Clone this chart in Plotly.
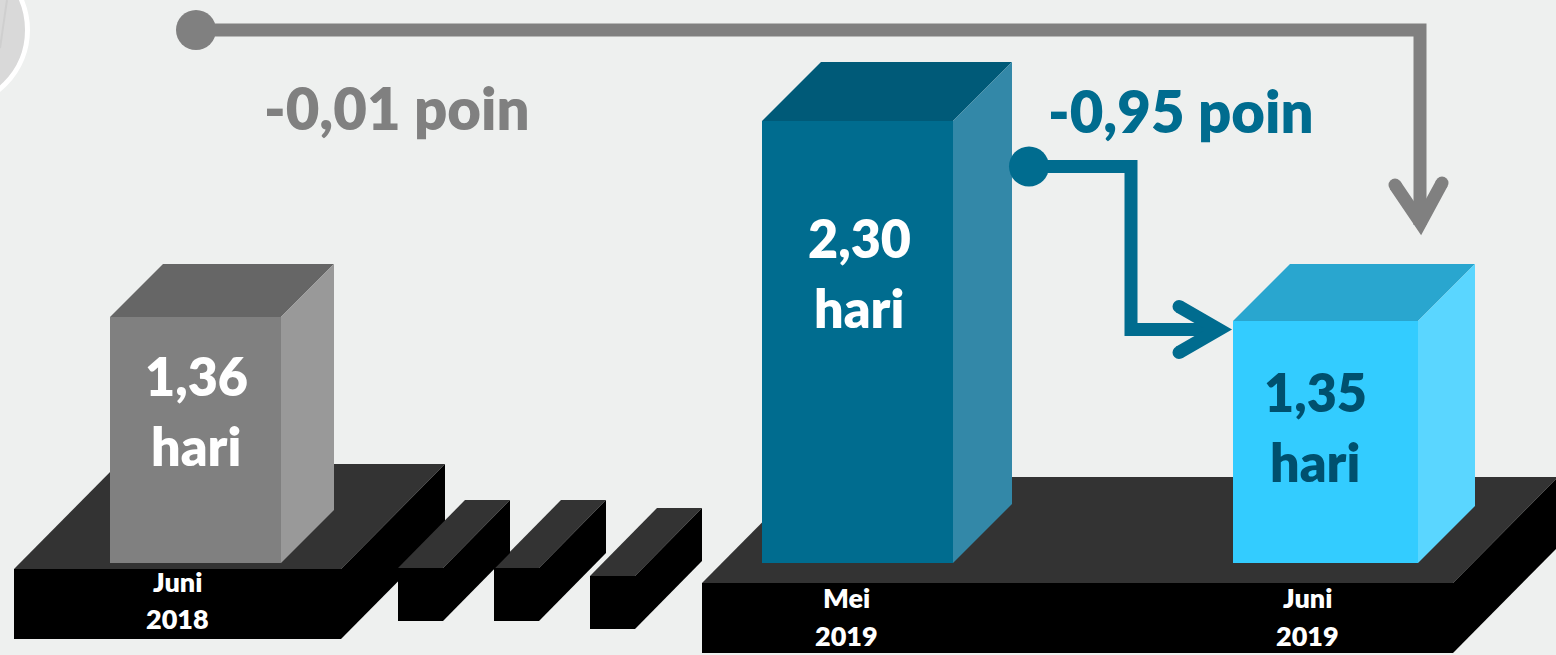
import plotly.graph_objects as go

# ---- data ----
periods = ["Juni 2018", "Mei 2019", "Juni 2019"]
period_lines = [["Juni", "2018"], ["Mei", "2019"], ["Juni", "2019"]]
value_labels = ["1,36", "2,30", "1,35"]
unit_label = "hari"
# drawn bar heights in the reference are not strictly to scale
drawn_heights = [1.283, 2.306, 1.262]
change_labels = ["-0,01 poin", "-0,95 poin"]

# ---- layout / style constants ----
W, H = 1556, 655
BASE = 563.0
K = 191.7
BG = "#eef0ef"
bar_left = [110, 762, 1233]
bar_right = [281, 953, 1418]
bar_depth = [53, 59, 57]
front_col = ["#808080", "#006c8f", "#33ccff"]
top_col = ["#666666", "#005a78", "#29a6cf"]
side_col = ["#999999", "#3388a8", "#5ad6ff"]
value_col = ["#ffffff", "#ffffff", "#00506e"]
text_x = [196, 859, 1315]
num_y = [376, 238, 392]
unit_y = [446, 308, 462]
period_x = [177, 846, 1307]
period_y = [(581, 618), (597, 635), (597, 635)]
FONT = "Lato"


def Y(py):
    return (BASE - py) / K


def poly(points, fill, layer="below", line=None, width=0):
    d = "M " + " L ".join(f"{x},{Y(y)}" for x, y in points) + " Z"
    return dict(type="path", path=d, xref="x", yref="y", fillcolor=fill, layer=layer,
                line=dict(color=line or fill, width=width if line else 0))


def stroke(points, col, w=13, layer="above"):
    d = "M " + " L ".join(f"{x},{Y(y)}" for x, y in points)
    return dict(type="path", path=d, xref="x", yref="y", layer=layer,
                line=dict(color=col, width=w))


def disc(cx, cy, r, fill, layer="above", line=None, width=0):
    return dict(type="circle", xref="x", yref="y", x0=cx - r, x1=cx + r, y0=Y(cy + r), y1=Y(cy - r),
                fillcolor=fill, layer=layer, line=dict(color=line or fill, width=width))


def slab(x0, x1, ytop, ybot, dx, dy):
    return [
        poly([(x0, ytop), (x0 + dx, ytop - dy), (x1 + dx, ytop - dy), (x1, ytop)], "#333333"),
        poly([(x1, ytop), (x1 + dx, ytop - dy), (x1 + dx, ybot - dy), (x1, ybot)], "#000000"),
        poly([(x0, ytop), (x1, ytop), (x1, ybot), (x0, ybot)], "#000000"),
    ]


shapes = []
# emblem cut off in the corner
shapes.append(disc(-49, 30, 76.5, "#d9d9d9", layer="below", line="#ffffff", width=5))
shapes.append(stroke([(7, 0), (0, 48)], "#cfcfcf", 2, layer="below"))
# plinths
shapes += slab(14, 341, 569, 639, 104, 105)
shapes += slab(590, 635, 576, 629, 67, 68)
shapes += slab(494, 539, 568, 621, 67, 68)
shapes += slab(398, 443, 568, 621, 67, 68)
shapes += slab(702, 1453, 583, 653, 105, 106)

# pseudo-3D faces, derived from the same heights as the bars
for i, h in enumerate(drawn_heights):
    yt = BASE - h * K
    l, r, d = bar_left[i], bar_right[i], bar_depth[i]
    shapes.append(poly([(l, yt), (l + d, yt - d), (r + d, yt - d), (r, yt)], top_col[i]))
    shapes.append(poly([(r, yt), (r + d, yt - d), (r + d, BASE - d), (r, BASE)], side_col[i]))

# connectors
GREY, TEAL = "#808080", "#006c8f"
shapes.append(stroke([(196, 30), (1420, 30), (1420, 225)], GREY, 13))
shapes.append(stroke([(1395, 185), (1420.5, 222.7), (1442, 183)], GREY, 13))
shapes.append(disc(1395, 185, 6.5, GREY))
shapes.append(disc(1442, 183, 6.5, GREY))
shapes.append(disc(196, 30, 20, GREY))
shapes.append(stroke([(1029, 166.5), (1131, 166.5), (1131, 329.5), (1215, 329.5)], TEAL, 13))
shapes.append(stroke([(1179, 306.5), (1219, 329.5), (1179, 352.5)], TEAL, 13))
shapes.append(disc(1179, 306.5, 6.5, TEAL))
shapes.append(disc(1179, 352.5, 6.5, TEAL))
shapes.append(disc(1029, 166.5, 20, TEAL))

bars = go.Bar(
    x=[(l + r) / 2 for l, r in zip(bar_left, bar_right)],
    y=drawn_heights,
    width=[r - l for l, r in zip(bar_left, bar_right)],
    marker=dict(color=front_col, line=dict(width=0)),
    customdata=periods,
    hovertemplate="%{customdata}<extra></extra>",
)


def label(x, py, text, size, col):
    return dict(x=x, y=Y(py), xref="x", yref="y", text=text, showarrow=False,
                xanchor="center", yanchor="middle",
                font=dict(family=FONT, size=size, color=col, weight=800))


annotations = []
for i in range(3):
    annotations.append(label(text_x[i], num_y[i], value_labels[i], 52, value_col[i]))
    annotations.append(label(text_x[i], unit_y[i], unit_label, 52, value_col[i]))
    annotations.append(label(period_x[i], period_y[i][0], period_lines[i][0], 27, "#ffffff"))
    annotations.append(label(period_x[i], period_y[i][1], period_lines[i][1], 27, "#ffffff"))
annotations.append(label(397, 107, change_labels[0], 58, GREY))
annotations.append(label(1181, 110, change_labels[1], 58, TEAL))

fig = go.Figure(bars)
fig.update_layout(
    width=W, height=H, margin=dict(l=0, r=0, t=0, b=0),
    paper_bgcolor=BG, plot_bgcolor=BG, showlegend=False,
    xaxis=dict(range=[0, W], visible=False, fixedrange=True),
    yaxis=dict(range=[Y(H), Y(0)], visible=False, fixedrange=True),
    shapes=shapes, annotations=annotations,
)
fig.write_html("out.html", config={"displayModeBar": False},
               post_script="document.body.style.margin='0';document.body.style.background='%s';" % BG)
